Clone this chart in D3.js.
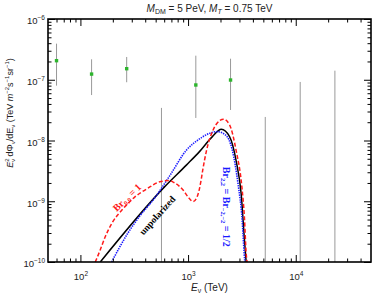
<!DOCTYPE html>
<html>
<head>
<meta charset="utf-8">
<script src="https://cdn.jsdelivr.net/npm/d3@7"></script>
<style>
  body { margin: 0; background: #fff; }
  svg { display: block; font-family: "Liberation Sans", Arial, sans-serif; }
</style>
</head>
<body>
<svg id="chart" width="374" height="294"></svg>
<script>
// data points with error bars (TeV, TeV m^-2 s^-1 sr^-1)
const pointE = [60, 127, 269, 1180, 2480]
const pointFlux = [2.06e-7, 1.24e-7, 1.52e-7, 8.2e-8, 9.9e-8]
const pointLo = [8.0e-8, 5.6e-8, 9.1e-8, 2.35e-8, 3.18e-8]
const pointHi = [3.93e-7, 2.17e-7, 2.37e-7, 2.49e-7, 2.22e-7]

// bins with only an upper bound (bar goes down to zero)
const limitE = [566, 5210, 11000, 23100]
const limitHi = [3.44e-8, 2.44e-8, 9.2e-8, 1.41e-7]

// unpolarized (black)
const blackE = [153, 607, 969, 1276, 1682, 2036, 2428, 2799, 3113, 3338, 3461]
const blackFlux = [1e-10, 1.74e-9, 3.97e-9, 6.56e-9, 1.16e-8, 1.53e-8, 1.16e-8, 4.58e-9, 1.32e-9, 2.32e-10, 1e-10]

// Br_{2,2} = Br_{-2,-2} = 1/2 (blue dotted)
const blueE = [195, 277, 357, 491, 675, 969, 1276, 1579, 1871, 2216, 2571, 2920, 3178, 3317, 3367]
const blueFlux = [1e-10, 3.02e-10, 5.75e-10, 1.14e-9, 2.62e-9, 7.0e-9, 1.06e-8, 1.31e-8, 1.40e-8, 1.24e-8, 7.0e-9, 1.86e-9, 4.95e-10, 1.42e-10, 1e-10]

// Br_{0,0} = 1 (red dashed)
const redE = [137.5, 153, 170, 197, 244, 321, 423, 546, 675, 720, 895, 995, 1112, 1231, 1323, 1369, 1481, 1708, 1964, 2138, 2428, 2799, 3158, 3338, 3461, 3535]
const redFlux = [1e-10, 1.59e-10, 2.6e-10, 4.41e-10, 7.22e-10, 1.18e-9, 1.64e-9, 2.09e-9, 2.19e-9, 2.09e-9, 1.54e-9, 1.19e-9, 9.9e-10, 1.27e-9, 2.25e-9, 3.28e-9, 6.75e-9, 1.49e-8, 2.12e-8, 2.24e-8, 1.81e-8, 6.75e-9, 1.74e-9, 5.33e-10, 1.42e-10, 1e-10]

const xMajor = [1e2, 1e3, 1e4]
const xMajorExp = ['2', '3', '4']
const yMajor = [1e-10, 1e-9, 1e-8, 1e-7, 1e-6]
const yMajorExp = ['\u221210', '\u22129', '\u22128', '\u22127', '\u22126']

const mLeft = 48, mRight = 371, mTop = 19, mBottom = 262

const x = d3.scaleLog().domain([50, 5e4]).range([mLeft, mRight])
const y = d3.scaleLog().domain([1e-10, 1e-6]).range([mBottom, mTop])

const svg = d3.select('#chart')

function minors(lo, hi) {
  const out = []
  for (let p = Math.floor(Math.log10(lo)); p <= Math.ceil(Math.log10(hi)); p++) {
    for (let k = 2; k <= 9; k++) {
      const v = k * Math.pow(10, p)
      if (v > lo && v < hi) out.push(v)
    }
  }
  return out
}

svg.append('clipPath').attr('id', 'plotclip')
  .append('rect')
  .attr('x', mLeft).attr('y', mTop)
  .attr('width', mRight - mLeft).attr('height', mBottom - mTop)

const plot = svg.append('g').attr('clip-path', 'url(#plotclip)')

// grey bars
plot.selectAll('line.limit')
  .data(limitE)
  .enter().append('line')
  .attr('class', 'limit')
  .attr('x1', d => x(d)).attr('x2', d => x(d))
  .attr('y1', (d, i) => y(limitHi[i]))
  .attr('y2', mBottom + 2)
  .attr('stroke', '#999')
  .attr('stroke-width', 1)

plot.selectAll('line.err')
  .data(pointE)
  .enter().append('line')
  .attr('class', 'err')
  .attr('x1', d => x(d)).attr('x2', d => x(d))
  .attr('y1', (d, i) => y(pointHi[i]))
  .attr('y2', (d, i) => y(pointLo[i]))
  .attr('stroke', '#999')
  .attr('stroke-width', 1)

plot.selectAll('rect.pt')
  .data(pointE)
  .enter().append('rect')
  .attr('class', 'pt')
  .attr('x', d => x(d) - 1.7)
  .attr('y', (d, i) => y(pointFlux[i]) - 1.7)
  .attr('width', 3.4).attr('height', 3.4)
  .attr('fill', '#2db52d')

// curves
const line = d3.line()
  .x(d => x(d[0]))
  .y(d => y(d[1]))
  .curve(d3.curveMonotoneX)

const zip = (a, b) => a.map((v, i) => [v, b[i]])

plot.append('path')
  .attr('d', line(zip(blackE, blackFlux)))
  .attr('fill', 'none')
  .attr('stroke', '#000')
  .attr('stroke-width', 1.5)

plot.append('path')
  .attr('d', line(zip(blueE, blueFlux)))
  .attr('fill', 'none')
  .attr('stroke', '#1a1aff')
  .attr('stroke-width', 1.6)
  .attr('stroke-dasharray', '1.4,1')

plot.append('path')
  .attr('d', line(zip(redE, redFlux)))
  .attr('fill', 'none')
  .attr('stroke', '#ff1a1a')
  .attr('stroke-width', 1.5)
  .attr('stroke-dasharray', '4,2.2')

// axes, ticks inward on all four sides
function supLabels(sel, exps) {
  sel.selectAll('.tick text').each(function (d, i) {
    const t = d3.select(this).text(null)
    t.append('tspan').text('10')
    t.append('tspan').attr('dy', -4).attr('font-size', 6.5).text(exps[i])
  })
}

const axisStyle = g => {
  g.select('.domain').remove()
  g.selectAll('.tick line').attr('stroke', '#000').attr('stroke-width', 1)
  g.selectAll('.tick text').attr('fill', '#222').attr('font-size', 9.5)
    .attr('font-family', '"Liberation Sans", Arial, sans-serif')
}

const xb = svg.append('g').attr('transform', `translate(0,${mBottom})`)
  .call(d3.axisBottom(x).tickValues(xMajor).tickSizeInner(-7).tickPadding(11))
  .call(axisStyle)
supLabels(xb, xMajorExp)
svg.append('g').attr('transform', `translate(0,${mBottom})`)
  .call(d3.axisBottom(x).tickValues(minors(50, 5e4)).tickSize(-3.5).tickFormat(''))
  .call(axisStyle)
svg.append('g').attr('transform', `translate(0,${mTop})`)
  .call(d3.axisTop(x).tickValues(xMajor).tickSize(-7).tickFormat(''))
  .call(axisStyle)
svg.append('g').attr('transform', `translate(0,${mTop})`)
  .call(d3.axisTop(x).tickValues(minors(50, 5e4)).tickSize(-3.5).tickFormat(''))
  .call(axisStyle)

const yl = svg.append('g').attr('transform', `translate(${mLeft},0)`)
  .call(d3.axisLeft(y).tickValues(yMajor).tickSizeInner(-7).tickPadding(3))
  .call(axisStyle)
supLabels(yl, yMajorExp)
yl.selectAll('.tick text').attr('dy', '0.5em')
svg.append('g').attr('transform', `translate(${mLeft},0)`)
  .call(d3.axisLeft(y).tickValues(minors(1e-10, 1e-6)).tickSize(-3.5).tickFormat(''))
  .call(axisStyle)
svg.append('g').attr('transform', `translate(${mRight},0)`)
  .call(d3.axisRight(y).tickValues(yMajor).tickSize(-7).tickFormat(''))
  .call(axisStyle)
svg.append('g').attr('transform', `translate(${mRight},0)`)
  .call(d3.axisRight(y).tickValues(minors(1e-10, 1e-6)).tickSize(-3.5).tickFormat(''))
  .call(axisStyle)

svg.append('rect')
  .attr('x', mLeft).attr('y', mTop)
  .attr('width', mRight - mLeft).attr('height', mBottom - mTop)
  .attr('fill', 'none')
  .attr('stroke', '#000')
  .attr('stroke-width', 1.6)

// title
const title = svg.append('text')
  .attr('x', (mLeft + mRight) / 2).attr('y', 12)
  .attr('text-anchor', 'middle')
  .attr('font-size', 10)
  .attr('fill', '#222')
title.append('tspan').attr('font-style', 'italic').text('M')
title.append('tspan').attr('font-size', 7).attr('dy', 2).text('DM')
title.append('tspan').attr('dy', -2).text(' =  5 PeV, ')
title.append('tspan').attr('font-style', 'italic').text('M')
title.append('tspan').attr('font-size', 7).attr('dy', 2).attr('font-style', 'italic').text('T')
title.append('tspan').attr('dy', -2).text(' = 0.75 TeV')

// x title
const xt = svg.append('text')
  .attr('x', (mLeft + mRight) / 2).attr('y', 291)
  .attr('text-anchor', 'middle')
  .attr('font-size', 10)
  .attr('fill', '#222')
xt.append('tspan').attr('font-style', 'italic').text('E')
xt.append('tspan').attr('font-size', 7).attr('dy', 2).text('\u03bd')
xt.append('tspan').attr('dy', -2).text(' (TeV)')

// y title
const yt = svg.append('text')
  .attr('transform', `translate(13,113) rotate(-90)`)
  .attr('text-anchor', 'middle')
  .attr('font-size', 9)
  .attr('fill', '#222')
yt.append('tspan').attr('font-style', 'italic').text('E')
yt.append('tspan').attr('font-size', 6).attr('dy', -4).text('2')
yt.append('tspan').attr('font-size', 6).attr('dx', -3.5).attr('dy', 6).text('\u03bd')
yt.append('tspan').attr('dy', -2).text(' d\u03a6')
yt.append('tspan').attr('font-size', 6).attr('dy', 2).text('\u03bd')
yt.append('tspan').attr('dy', -2).text('/dE')
yt.append('tspan').attr('font-size', 6).attr('dy', 2).text('\u03bd')
yt.append('tspan').attr('dy', -2).text(' (TeV ')
yt.append('tspan').attr('font-style', 'italic').text('m')
yt.append('tspan').attr('font-size', 6).attr('dy', -4).text('\u22122')
yt.append('tspan').attr('dy', 4).text('s')
yt.append('tspan').attr('font-size', 6).attr('dy', -4).text('\u22121')
yt.append('tspan').attr('dy', 4).text('sr')
yt.append('tspan').attr('font-size', 6).attr('dy', -4).text('\u22121')
yt.append('tspan').attr('dy', 4).text(')')

// curve labels
const serif = '"Liberation Serif", "DejaVu Serif", serif'

const redLab = svg.append('text')
  .attr('transform', `translate(${x(285)},${y(1.05e-9)}) rotate(-44)`)
  .attr('text-anchor', 'middle')
  .attr('font-family', serif).attr('font-weight', 'bold')
  .attr('font-size', 10).attr('fill', '#ff1a1a')
redLab.append('tspan').text('Br')
redLab.append('tspan').attr('font-size', 6.5).attr('dy', 2).text('0,0')
redLab.append('tspan').attr('dy', -2).text(' = 1')

svg.append('text')
  .attr('transform', `translate(${x(545)},${y(5.4e-10)}) rotate(-48)`)
  .attr('text-anchor', 'middle')
  .attr('font-family', serif).attr('font-weight', 'bold')
  .attr('font-size', 9.5).attr('fill', '#000')
  .text('unpolarized')

const blueLab = svg.append('text')
  .attr('transform', `translate(${x(2300) - 4},${y(8.1e-10)}) rotate(90)`)
  .attr('text-anchor', 'middle')
  .attr('font-family', serif).attr('font-weight', 'bold')
  .attr('font-size', 10).attr('fill', '#1a1aff')
blueLab.append('tspan').text('Br')
blueLab.append('tspan').attr('font-size', 6.5).attr('dy', 2).text('2,2')
blueLab.append('tspan').attr('dy', -2).text(' = Br')
blueLab.append('tspan').attr('font-size', 6.5).attr('dy', 2).text('\u22122,\u22122')
blueLab.append('tspan').attr('dy', -2).text(' = 1/2')
</script>
</body>
</html>
